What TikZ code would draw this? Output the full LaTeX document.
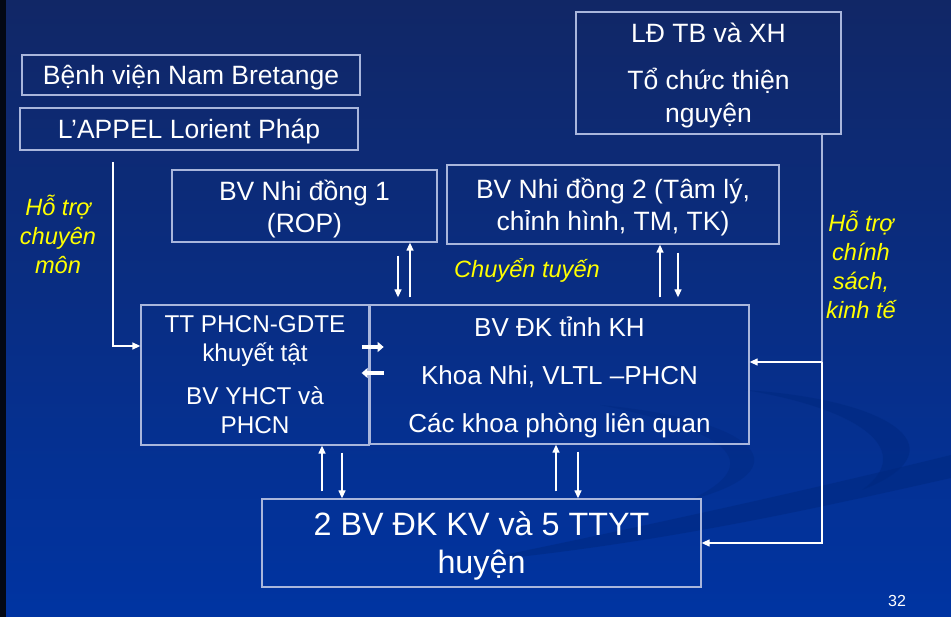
\documentclass[tikz,border=0pt]{standalone}
\usepackage{fontspec}
\setmainfont{Liberation Sans}
\usetikzlibrary{arrows.meta, calc}
\definecolor{bgtop}{HTML}{112766}
\definecolor{bgbot}{HTML}{0034A2}
\definecolor{frame}{HTML}{A9B6DC}
\definecolor{swoosh}{HTML}{00287F}
\definecolor{note}{HTML}{FFFF00}

\begin{document}
\begin{tikzpicture}[x=1pt, y=-1pt, >=Triangle,
  box/.style={draw=frame, line width=1.3pt, text=white, align=center, inner sep=0pt, text depth=0pt},
  conn/.style={->, white, line width=1.3pt, >={Triangle[length=8pt,width=7pt]}},
  fat/.style={->, white, line width=4.5pt, >={Triangle[length=6pt,width=10pt]}},
  note/.style={text=note, align=center, font=\fontsize{23.6}{29}\selectfont\itshape}]
  \useasboundingbox (0,0) rectangle (951,617);
  % background
  \fill[top color=bgtop, bottom color=bgbot] (0,0) rectangle (951,617);
  \fill[black!80!bgtop] (0,0) rectangle (6,617);
  \begin{scope}
    \clip (0,0) rectangle (951,617);
    \fill[swoosh, opacity=0.5] (470,562) .. controls (650,525) and (800,492) .. (951,455)
      -- (951,478) .. controls (800,512) and (650,545) .. (470,562) -- cycle;
    \fill[swoosh, opacity=0.5] (745,390) .. controls (900,400) and (960,452) .. (862,490)
      .. controls (915,452) and (865,410) .. (745,390) -- cycle;
    \fill[swoosh, opacity=0.4] (600,405) .. controls (760,420) and (805,470) .. (690,500)
      .. controls (765,465) and (735,432) .. (600,405) -- cycle;
  \end{scope}

  % boxes
  \node[box, minimum width=338pt, minimum height=40pt, font=\fontsize{26.5}{30}\selectfont]
    (nam) at (191,75) {Bệnh viện Nam Bretange};
  \node[box, minimum width=338pt, minimum height=42pt, font=\fontsize{26.5}{30}\selectfont]
    (appel) at (189,129) {L’APPEL Lorient Pháp};
  \node[box, minimum width=265pt, minimum height=72pt, font=\fontsize{26.5}{32}\selectfont]
    (nd1) at (304.5,206) {BV Nhi đồng 1\\(ROP)};
  \node[box, minimum width=332pt, minimum height=79pt, font=\fontsize{26.5}{32}\selectfont]
    (nd2) at (613,204.5) {BV Nhi đồng 2 (Tâm lý,\\chỉnh hình, TM, TK)};
  \node[box, minimum width=265pt, minimum height=122pt, font=\fontsize{26.5}{33}\selectfont]
    (ld) at (708.5,73) {LĐ TB và XH\\[14pt]Tổ chức thiện\\nguyện};
  \node[box, minimum width=228pt, minimum height=140pt, font=\fontsize{24.3}{29}\selectfont]
    (tt) at (255,375) {TT PHCN-GDTE\\khuyết tật\\[14pt]BV YHCT và\\PHCN};
  \node[box, minimum width=379pt, minimum height=139pt, font=\fontsize{26}{33}\selectfont]
    (dk) at (559.5,374.5) {BV ĐK tỉnh KH\\[15pt]Khoa Nhi, VLTL –PHCN\\[15pt]Các khoa phòng liên quan};
  \node[box, minimum width=439pt, minimum height=88pt, font=\fontsize{32.3}{38}\selectfont]
    (kv) at (481.5,543) {2 BV ĐK KV và 5 TTYT\\huyện};

  % labels
  \node[note] (hotro1) at (58,234) {Hỗ trợ\\chuyên\\môn};
  \node[note] (chuyen) at (527,270) {Chuyển tuyến};
  \node[note] (hotro2) at (861,265) {Hỗ trợ\\chính\\sách,\\kinh tế};
  \node[text=white, font=\fontsize{16}{18}\selectfont] (page) at (897,601) {32};

  % connectors
  \coordinate (supL) at (113,162);
  \coordinate (supR) at (822,134);
  \coordinate (tapR) at (822,362);
  \draw[conn] (supL) |- ([yshift=29pt]tt.west);
  \draw[draw=frame, line width=1.3pt] (supR) -- (tapR);
  \draw[conn] (tapR) |- (kv.east);
  \draw[conn] (tapR) -- (dk.east |- tapR);

  \coordinate (a1) at (398,0);  \coordinate (a2) at (410,0);
  \coordinate (b1) at (660,0);  \coordinate (b2) at (678,0);
  \coordinate (c1) at (322,0);  \coordinate (c2) at (342,0);
  \coordinate (d1) at (556,0);  \coordinate (d2) at (578,0);
  \draw[conn, shorten <=13pt, shorten >=7pt] (nd1.south -| a1) -- (dk.north -| a1);
  \draw[conn, shorten <=7pt] (dk.north -| a2) -- (nd1.south -| a2);
  \draw[conn, shorten <=7pt] (dk.north -| b1) -- (nd2.south -| b1);
  \draw[conn, shorten <=8pt, shorten >=7pt] (nd2.south -| b2) -- (dk.north -| b2);
  \draw[conn, shorten <=7pt] (kv.north -| c1) -- (tt.south -| c1);
  \draw[conn, shorten <=7pt] (tt.south -| c2) -- (kv.north -| c2);
  \draw[conn, shorten <=7pt] (kv.north -| d1) -- (dk.south -| d1);
  \draw[conn, shorten <=7pt] (dk.south -| d2) -- (kv.north -| d2);

  \draw[fat] ([xshift=-8pt,yshift=28pt]tt.east) -- ([xshift=14pt,yshift=28pt]tt.east);
  \draw[fat] ([xshift=14pt,yshift=2pt]tt.east) -- ([xshift=-8pt,yshift=2pt]tt.east);
\end{tikzpicture}
\end{document}
